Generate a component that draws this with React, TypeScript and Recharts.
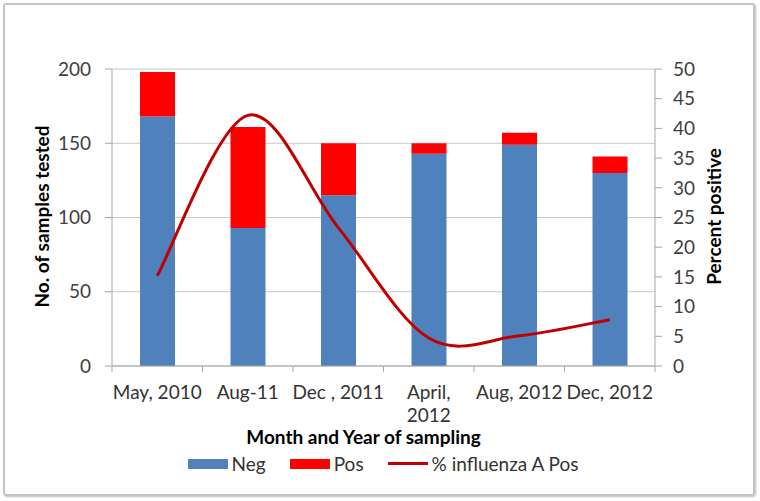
import React from 'react';
import { ComposedChart, Bar, Line, XAxis, YAxis, CartesianGrid, Legend } from 'recharts';

const categories = ['May, 2010', 'Aug-11', 'Dec , 2011', 'April,\n2012', 'Aug, 2012', 'Dec, 2012'];
const negValues = [168, 93, 115, 143, 149, 130];
const posValues = [30, 68, 35, 7, 8, 11];
const pctPositive = [15.2, 42.2, 23.3, 4.7, 5.1, 7.8];
const leftTicks = [0, 50, 100, 150, 200];
const rightTicks = [0, 5, 10, 15, 20, 25, 30, 35, 40, 45, 50];

const data = categories.map((c, i) => ({
  cat: c,
  Neg: negValues[i],
  Pos: posValues[i],
  pct: pctPositive[i],
}));

// Excel-like smoothed line (uniform Catmull-Rom as cubic Bezier)
function excelCurve(context: any) {
  let pts: [number, number][] = [];
  return {
    areaStart() {},
    areaEnd() {},
    lineStart() {
      pts = [];
    },
    point(x: number, y: number) {
      pts.push([+x, +y]);
    },
    lineEnd() {
      const n = pts.length;
      if (!n) return;
      context.moveTo(pts[0][0], pts[0][1]);
      for (let i = 0; i < n - 1; i++) {
        const p0 = pts[Math.max(0, i - 1)];
        const p1 = pts[i];
        const p2 = pts[i + 1];
        const p3 = pts[Math.min(n - 1, i + 2)];
        context.bezierCurveTo(
          p1[0] + (p2[0] - p0[0]) / 6,
          p1[1] + (p2[1] - p0[1]) / 6,
          p2[0] - (p3[0] - p1[0]) / 6,
          p2[1] - (p3[1] - p1[1]) / 6,
          p2[0],
          p2[1]
        );
      }
    },
  };
}

const AXIS = '#a6a6a6';
const TEXT = '#333333';
const FS = 19;

const CatTick = (props: any) => {
  const { x, y, payload, index } = props;
  const half = payload && payload.offset ? payload.offset : 45.25;
  const lines = String(payload.value).split('\n');
  const top = y - 8;
  return (
    <g>
      <line x1={x - half} x2={x - half} y1={top} y2={top + 6} stroke={AXIS} />
      {index === categories.length - 1 && (
        <line x1={x + half} x2={x + half} y1={top} y2={top + 6} stroke={AXIS} />
      )}
      <text x={x} y={y} textAnchor="middle" fill={TEXT} fontSize={FS}>
        {lines.map((l, i) => (
          <tspan key={i} x={x} dy={i === 0 ? 25 : 23}>
            {l}
          </tspan>
        ))}
      </text>
    </g>
  );
};

const renderLegend = () => {
  const items = [
    { label: 'Neg', kind: 'bar', color: '#4f81bd' },
    { label: 'Pos', kind: 'bar', color: '#ff0000' },
    { label: '% influenza A Pos', kind: 'line', color: '#c00000' },
  ];
  return (
    <div style={{ display: 'flex', justifyContent: 'center', alignItems: 'center', gap: 24, fontSize: FS, color: TEXT }}>
      {items.map((it) => (
        <div key={it.label} style={{ display: 'flex', alignItems: 'center' }}>
          <div
            style={{
              width: 40,
              height: it.kind === 'bar' ? 10 : 3,
              background: it.color,
              marginRight: 4,
            }}
          />
          <span>{it.label}</span>
        </div>
      ))}
    </div>
  );
};

export default function App() {
  return (
    <div style={{ position: 'absolute', left: 0, top: 0, width: 760, height: 501, background: '#fff', fontFamily: 'Lato' }}>
      <div
        style={{
          position: 'absolute',
          left: 3,
          top: 3,
          width: 748,
          height: 489,
          border: '2px solid #c4c4c4',
          borderRadius: 3,
          boxShadow: '1px 1px 2px rgba(0,0,0,0.25)',
        }}
      />
      <div style={{ position: 'absolute', left: 0, top: 0 }}>
        <ComposedChart
          width={760}
          height={501}
          data={data}
          margin={{ top: 69, right: 45, bottom: 105, left: 52 }}
          barCategoryGap={0}
        >
          <CartesianGrid yAxisId="left" vertical={false} stroke="#c8c8c8" strokeWidth={1} />
          <XAxis
            dataKey="cat"
            xAxisId={0}
            height={30}
            interval={0}
            axisLine={{ stroke: AXIS }}
            tickLine={false}
            tick={<CatTick />}
            label={{
              value: 'Month and Year of sampling',
              position: 'center',
              dx: -20,
              dy: 56,
              style: { fontWeight: 'bold', fontSize: FS, fill: '#000' },
            }}
          />
          <YAxis
            yAxisId="left"
            orientation="left"
            width={60}
            domain={[0, 200]}
            ticks={leftTicks}
            interval={0}
            tickSize={7}
            tickMargin={14}
            axisLine={{ stroke: AXIS }}
            tickLine={{ stroke: AXIS }}
            tick={{ fill: '#404040', fontSize: FS }}
            label={{
              value: 'No. of samples tested',
              angle: -90,
              position: 'center',
              dx: -40,
              dy: -1,
              style: { fontWeight: 'bold', fontSize: FS, fill: '#000', textAnchor: 'middle' },
            }}
          />
          <YAxis
            yAxisId="right"
            orientation="right"
            width={60}
            domain={[0, 50]}
            ticks={rightTicks}
            interval={0}
            tickSize={7}
            tickMargin={11}
            axisLine={{ stroke: AXIS }}
            tickLine={{ stroke: AXIS }}
            tick={{ fill: '#404040', fontSize: FS }}
            label={{
              value: 'Percent positive',
              angle: -90,
              position: 'center',
              dx: 29,
              dy: -1,
              style: { fontWeight: 'bold', fontSize: FS, fill: '#000', textAnchor: 'middle' },
            }}
          />
          <Bar dataKey="Neg" stackId="a" yAxisId="left" fill="#4f81bd" barSize={35} isAnimationActive={false} />
          <Bar dataKey="Pos" stackId="a" yAxisId="left" fill="#ff0000" barSize={35} isAnimationActive={false} />
          <Line
            dataKey="pct"
            yAxisId="right"
            type={excelCurve as any}
            stroke="#c00000"
            strokeWidth={3}
            dot={false}
            activeDot={false}
            isAnimationActive={false}
          />
          <Legend
            layout="horizontal"
            verticalAlign="middle"
            align="center"
            wrapperStyle={{ position: 'absolute', top: 452, left: 3, width: 760, height: 26 }}
            content={renderLegend}
          />
        </ComposedChart>
      </div>
    </div>
  );
}
